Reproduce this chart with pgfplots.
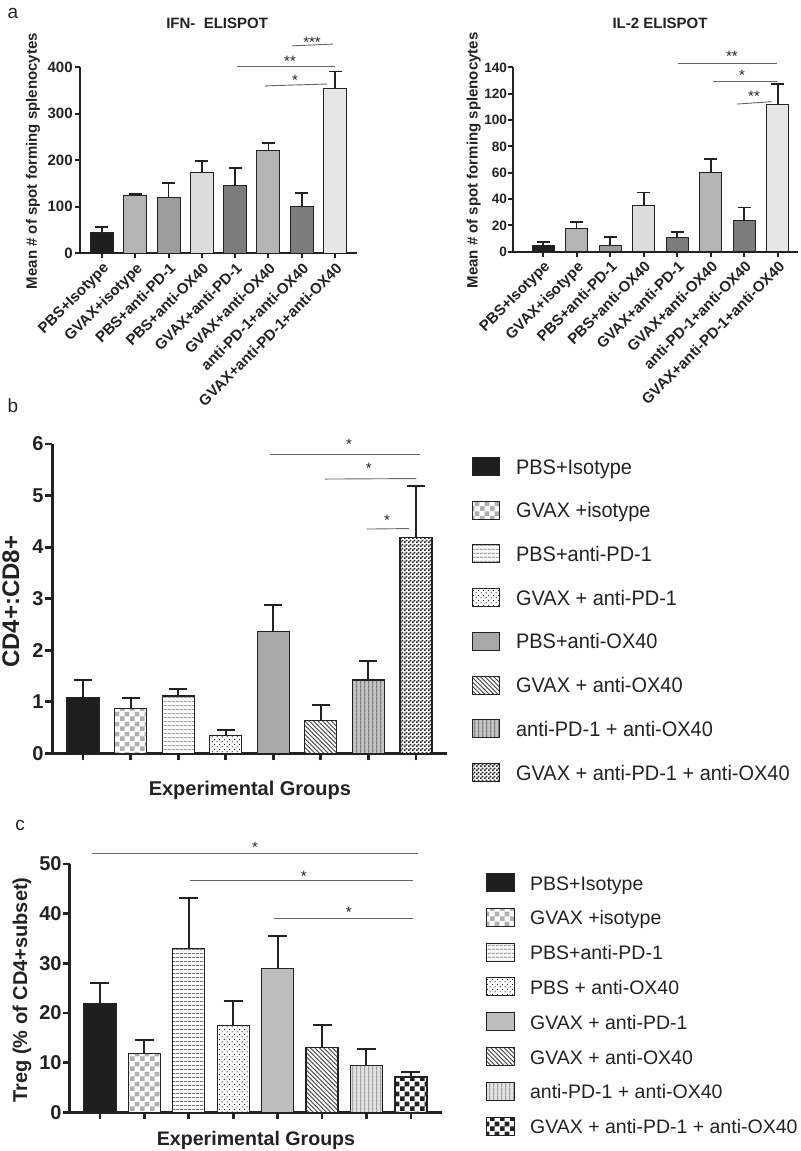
\documentclass[border=0pt]{standalone}
\usepackage{pgfplots}
\pgfplotsset{compat=1.18}
\usepackage{fontspec}
\setmainfont{Liberation Sans}
\newfontfamily\narrowsans[FakeStretch=0.95]{Liberation Sans}
\usetikzlibrary{patterns}

\definecolor{ink}{HTML}{222222}
\definecolor{gA1}{HTML}{1E1E1E}
\definecolor{gA2}{HTML}{B4B4B4}
\definecolor{gA3}{HTML}{9C9C9C}
\definecolor{gA4}{HTML}{DCDCDC}
\definecolor{gA5}{HTML}{7C7C7C}
\definecolor{gA8}{HTML}{E6E6E6}
\definecolor{chkgray}{HTML}{B0B0B0}
\definecolor{linegray}{HTML}{777777}
\definecolor{diaggray}{HTML}{444444}
\definecolor{solidB}{HTML}{A8A8A8}
\definecolor{solidC}{HTML}{BDBDBD}
\definecolor{vfillB}{HTML}{C4C4C4}
\definecolor{vlineB}{HTML}{555555}
\definecolor{vfillC}{HTML}{E2E2E2}
\definecolor{vlineC}{HTML}{7A7A7A}
\definecolor{siggray}{HTML}{666666}

\pgfdeclarepatternformonly{chkA}{\pgfpointorigin}{\pgfqpoint{5pt}{5pt}}{\pgfqpoint{5pt}{5pt}}{%
  \pgfpathrectangle{\pgfpointorigin}{\pgfqpoint{2.5pt}{2.5pt}}%
  \pgfpathrectangle{\pgfqpoint{2.5pt}{2.5pt}}{\pgfqpoint{2.5pt}{2.5pt}}%
  \pgfusepath{fill}}
\pgfdeclarepatternformonly{chkB}{\pgfpointorigin}{\pgfqpoint{2pt}{2pt}}{\pgfqpoint{2pt}{2pt}}{%
  \pgfpathrectangle{\pgfpointorigin}{\pgfqpoint{1pt}{1pt}}%
  \pgfpathrectangle{\pgfqpoint{1pt}{1pt}}{\pgfqpoint{1pt}{1pt}}%
  \pgfusepath{fill}}
\pgfdeclarepatternformonly{hl}{\pgfpointorigin}{\pgfqpoint{2pt}{2pt}}{\pgfqpoint{2pt}{2pt}}{%
  \pgfsetlinewidth{0.45pt}\pgfpathmoveto{\pgfqpoint{-0.1pt}{1pt}}\pgfpathlineto{\pgfqpoint{2.1pt}{1pt}}\pgfusepath{stroke}}
\pgfdeclarepatternformonly{vl}{\pgfpointorigin}{\pgfqpoint{1.85pt}{1.85pt}}{\pgfqpoint{1.85pt}{1.85pt}}{%
  \pgfsetlinewidth{0.45pt}\pgfpathmoveto{\pgfqpoint{0.9pt}{-0.1pt}}\pgfpathlineto{\pgfqpoint{0.9pt}{1.95pt}}\pgfusepath{stroke}}
\pgfdeclarepatternformonly{nwl}{\pgfqpoint{-1pt}{-1pt}}{\pgfqpoint{3.2pt}{3.2pt}}{\pgfqpoint{2.2pt}{2.2pt}}{%
  \pgfsetlinewidth{0.45pt}\pgfpathmoveto{\pgfqpoint{0pt}{2.2pt}}\pgfpathlineto{\pgfqpoint{2.3pt}{-0.1pt}}\pgfusepath{stroke}}
\pgfdeclarepatternformonly{dt}{\pgfpointorigin}{\pgfqpoint{2.4pt}{2.4pt}}{\pgfqpoint{2.4pt}{2.4pt}}{%
  \pgfpathcircle{\pgfqpoint{0.6pt}{0.6pt}}{0.32pt}\pgfpathcircle{\pgfqpoint{1.8pt}{1.8pt}}{0.32pt}\pgfusepath{fill}}

\newcommand{\fs}[1]{\fontsize{#1}{#1}\selectfont}

\tikzset{
  star/.style={font=\fs{7.5}, text=ink, anchor=center, yshift=-1.5pt, inner sep=0pt},
  sig/.style={line width=0.45pt, siggray},
}

\pgfplotsset{
  panelA/.style={scale only axis, clip=false, axis x line*=bottom, axis y line*=left,
    axis line style={-, line width=1pt, ink}, tick align=outside, major tick length=2.5pt,
    tick style={line width=1pt, ink}, xtick={0,...,7},
    xticklabels={PBS+Isotype,GVAX+isotype,PBS+anti-PD-1,PBS+anti-OX40,GVAX+anti-PD-1,GVAX+anti-OX40,anti-PD-1+anti-OX40,GVAX+anti-PD-1+anti-OX40},
    xticklabel style={rotate=45, anchor=north east, inner sep=1pt, font=\bfseries\fs{7.5}, text=ink},
    yticklabel style={font=\bfseries\fs{7.5}, text=ink, inner xsep=1pt},
    /pgf/number format/assume math mode=true,
    ylabel={Mean \# of spot forming splenocytes},
    ylabel style={font=\bfseries\fs{7.5}, text=ink, anchor=center},
    title style={font=\bfseries\fs{7.5}, text=ink, anchor=center}},
  barA/.style={ybar, bar width=11.5pt, bar shift=0pt, draw=ink, line width=0.5pt,
    error bars/y dir=plus, error bars/y explicit,
    error bars/error bar style={line width=0.9pt, ink},
    error bars/error mark options={rotate=90, mark size=3.25pt, line width=0.9pt, ink}},
  panelB/.style={scale only axis, clip=false, axis x line*=bottom, axis y line*=left,
    axis line style={-, line width=1.5pt, ink}, tick align=outside, major tick length=3.5pt,
    tick style={line width=1.4pt, ink}, xtick={0,...,7}, xticklabel=\empty,
    yticklabel style={font=\bfseries\fs{10}, text=ink, inner xsep=0.5pt},
    /pgf/number format/assume math mode=true,
    xlabel={Experimental Groups}, xlabel style={font=\bfseries\fs{10}, text=ink, anchor=center},
    ylabel style={font=\bfseries\fs{12}, text=ink, anchor=center},
    legend cell align=left,
    legend style={draw=none, fill=none, inner sep=0pt, outer sep=0pt, column sep=0pt, text=ink,
      nodes={inner sep=0pt, text height=7.6pt, text depth=0pt}}},
  barB/.style={ybar, bar width=16pt, bar shift=0pt, draw=ink, line width=0.6pt,
    error bars/y dir=plus, error bars/y explicit,
    error bars/error bar style={line width=1pt, ink},
    error bars/error mark options={rotate=90, mark size=4.5pt, line width=1pt, ink},
    legend image code/.code={\draw[##1, line width=0.5pt] (0pt,-4.5pt) rectangle (13.5pt,4.5pt); \path (21.5pt,0pt);}},
  barC/.style={ybar, bar width=16pt, bar shift=0pt, draw=ink, line width=0.6pt,
    error bars/y dir=plus, error bars/y explicit,
    error bars/error bar style={line width=1pt, ink},
    error bars/error mark options={rotate=90, mark size=4.75pt, line width=1pt, ink},
    legend image code/.code={\draw[##1, line width=0.5pt] (0pt,-4.5pt) rectangle (14pt,4.5pt); \path (21.5pt,0pt);}},
}

\begin{document}
\begin{tikzpicture}
\useasboundingbox (0,0) rectangle (400pt,575.5pt);

\node[font=\fs{9.5}, text=ink] at (6.5pt,569pt) {a};
\node[font=\fs{9.5}, text=ink] at (6.5pt,372.5pt) {b};
\node[font=\fs{9.5}, text=ink] at (10pt,163pt) {c};

% ---------------- Panel a, IFN ----------------
\begin{axis}[panelA, at={(40pt,448.85pt)}, anchor=south west, width=138.5pt, height=93pt,
  xmin=-0.66, xmax=7.66, ymin=0, ymax=400, ytick={0,100,200,300,400},
  ylabel style={at={(axis description cs:-0.170,0.495)}},
  title={IFN-\ \ ELISPOT}, title style={at={(axis description cs:0.495,1.174)}}]
\addplot[fill=gA1, barA] coordinates {(0,44) +- (0,12)};
\addplot[fill=gA2, barA] coordinates {(1,125) +- (0,2)};
\addplot[fill=gA3, barA] coordinates {(2,120) +- (0,31)};
\addplot[fill=gA4, barA] coordinates {(3,174) +- (0,24.5)};
\addplot[fill=gA5, barA] coordinates {(4,146) +- (0,37)};
\addplot[fill=gA2, barA] coordinates {(5,221.5) +- (0,15)};
\addplot[fill=gA5, barA] coordinates {(6,100) +- (0,29)};
\addplot[fill=gA8, barA] coordinates {(7,355) +- (0,36)};
\draw[sig] (axis cs:5.71,446) -- (axis cs:6.94,450);
\node[star] at (axis cs:6.31,461) {***};
\draw[sig] (axis cs:4.06,401) -- (axis cs:7.0,401);
\node[star] at (axis cs:5.65,420) {**};
\draw[sig] (axis cs:4.9,360) -- (axis cs:6.76,364);
\node[star] at (axis cs:5.8,379) {*};
\end{axis}

% ---------------- Panel a, IL-2 ----------------
\begin{axis}[panelA, at={(256.5pt,449.65pt)}, anchor=south west, width=142.5pt, height=92.1pt,
  xmin=-0.894, xmax=7.6, ymin=0, ymax=140, ytick={0,20,...,140},
  yticklabel style={font=\bfseries\fs{6.8}, inner xsep=0.3pt},
  ylabel style={at={(axis description cs:-0.138,0.495)}},
  title={IL-2 ELISPOT}, title style={at={(axis description cs:0.516,1.176)}}]
\addplot[fill=gA1, barA, bar width=11pt] coordinates {(0,4.6) +- (0,2.5)};
\addplot[fill=gA2, barA, bar width=11pt] coordinates {(1,17.5) +- (0,5)};
\addplot[fill=gA3, barA, bar width=11pt] coordinates {(2,5) +- (0,6)};
\addplot[fill=gA4, barA, bar width=11pt] coordinates {(3,35) +- (0,10)};
\addplot[fill=gA5, barA, bar width=11pt] coordinates {(4,11) +- (0,4)};
\addplot[fill=gA2, barA, bar width=11pt] coordinates {(5,60.3) +- (0,10)};
\addplot[fill=gA5, barA, bar width=11pt] coordinates {(6,23.6) +- (0,10)};
\addplot[fill=gA8, barA, bar width=11pt] coordinates {(7,111.5) +- (0,15.7)};
\draw[sig] (axis cs:4.02,143) -- (axis cs:6.97,143);
\node[star] at (axis cs:5.63,150.6) {**};
\draw[sig] (axis cs:5.06,129.4) -- (axis cs:6.97,129.4);
\node[star] at (axis cs:5.93,136.2) {*};
\draw[sig] (axis cs:5.78,112.2) -- (axis cs:6.82,114);
\node[star] at (axis cs:6.29,120.3) {**};
\end{axis}

% ---------------- Panel b ----------------
\begin{axis}[panelB, at={(26pt,198.85pt)}, anchor=south west, width=197.5pt, height=154.65pt,
  xmin=-0.652, xmax=7.652, ymin=0, ymax=6, ytick={0,1,...,6},
  ylabel={CD4+:CD8+}, ylabel style={at={(axis description cs:-0.104,0.49)}},
  xlabel style={at={(axis description cs:0.501,-0.119)}},
  legend style={at={(axis description cs:1.0633,0.958)}, anchor=north west, row sep=12.35pt,
    font=\narrowsans\fs{10.5}},
  legend entries={PBS+Isotype,GVAX +isotype,PBS+anti-PD-1,GVAX + anti-PD-1,PBS+anti-OX40,GVAX + anti-OX40,anti-PD-1 + anti-OX40,GVAX + anti-PD-1 + anti-OX40}]
\addplot[fill=gA1, barB] coordinates {(0,1.09) +- (0,0.33)};
\addplot[fill=white, postaction={pattern=chkA, pattern color=chkgray}, barB] coordinates {(1,0.865) +- (0,0.215)};
\addplot[fill=white, postaction={pattern=hl, pattern color=linegray}, barB] coordinates {(2,1.11) +- (0,0.13)};
\addplot[fill=white, postaction={pattern=dt, pattern color=ink}, barB] coordinates {(3,0.35) +- (0,0.1)};
\addplot[fill=solidB, barB] coordinates {(4,2.37) +- (0,0.5)};
\addplot[fill=white, postaction={pattern=nwl, pattern color=diaggray}, barB] coordinates {(5,0.63) +- (0,0.31)};
\addplot[fill=vfillB, postaction={pattern=vl, pattern color=vlineB}, barB] coordinates {(6,1.42) +- (0,0.37)};
\addplot[fill=white, postaction={pattern=chkB, pattern color=ink}, barB] coordinates {(7,4.19) +- (0,1.0)};
\draw[sig] (axis cs:3.93,5.80) -- (axis cs:7.08,5.80);
\node[star] at (axis cs:5.59,6.06) {*};
\draw[sig] (axis cs:5.09,5.32) -- (axis cs:7.01,5.33);
\node[star] at (axis cs:6.01,5.59) {*};
\draw[sig] (axis cs:5.97,4.35) -- (axis cs:6.85,4.36);
\node[star] at (axis cs:6.39,4.58) {*};
\end{axis}

% ---------------- Panel c ----------------
\begin{axis}[panelB, at={(35pt,19.35pt)}, anchor=south west, width=186pt, height=124.15pt,
  xmin=-0.675, xmax=7.70, ymin=0, ymax=50, ytick={0,10,...,50},
  ylabel={Treg (\% of CD4+subset)}, ylabel style={at={(axis description cs:-0.129,0.4925)}, font=\bfseries\fs{10}},
  xlabel style={at={(axis description cs:0.5,-0.1115)}, font=\bfseries\fs{9.8}},
  legend style={at={(axis description cs:1.1183,0.9638)}, anchor=north west, row sep=7.9pt,
    font=\fs{9.75}},
  legend entries={PBS+Isotype,GVAX +isotype,PBS+anti-PD-1,PBS + anti-OX40,GVAX + anti-PD-1,GVAX + anti-OX40,anti-PD-1 + anti-OX40,GVAX + anti-PD-1 + anti-OX40}]
\addplot[fill=gA1, barC] coordinates {(0,21.8) +- (0,4.2)};
\addplot[fill=white, postaction={pattern=chkA, pattern color=chkgray}, barC] coordinates {(1,11.8) +- (0,2.7)};
\addplot[fill=white, postaction={pattern=hl, pattern color=linegray}, barC] coordinates {(2,33) +- (0,10.2)};
\addplot[fill=white, postaction={pattern=dt, pattern color=ink}, barC] coordinates {(3,17.5) +- (0,5)};
\addplot[fill=solidC, barC] coordinates {(4,28.9) +- (0,6.7)};
\addplot[fill=white, postaction={pattern=nwl, pattern color=diaggray}, barC] coordinates {(5,13.1) +- (0,4.5)};
\addplot[fill=vfillC, postaction={pattern=vl, pattern color=vlineC}, barC] coordinates {(6,9.4) +- (0,3.4)};
\addplot[fill=white, postaction={pattern=chkA, pattern color=ink}, barC] coordinates {(7,7.1) +- (0,1.0)};
\draw[sig] (axis cs:-0.18,52.2) -- (axis cs:7.16,52.2);
\node[star] at (axis cs:3.49,54.0) {*};
\draw[sig] (axis cs:2.03,46.6) -- (axis cs:7.04,46.6);
\node[star] at (axis cs:4.59,48.2) {*};
\draw[sig] (axis cs:3.92,39.1) -- (axis cs:7.04,39.1);
\node[star] at (axis cs:5.6,40.9) {*};
\end{axis}
\end{tikzpicture}
\end{document}
